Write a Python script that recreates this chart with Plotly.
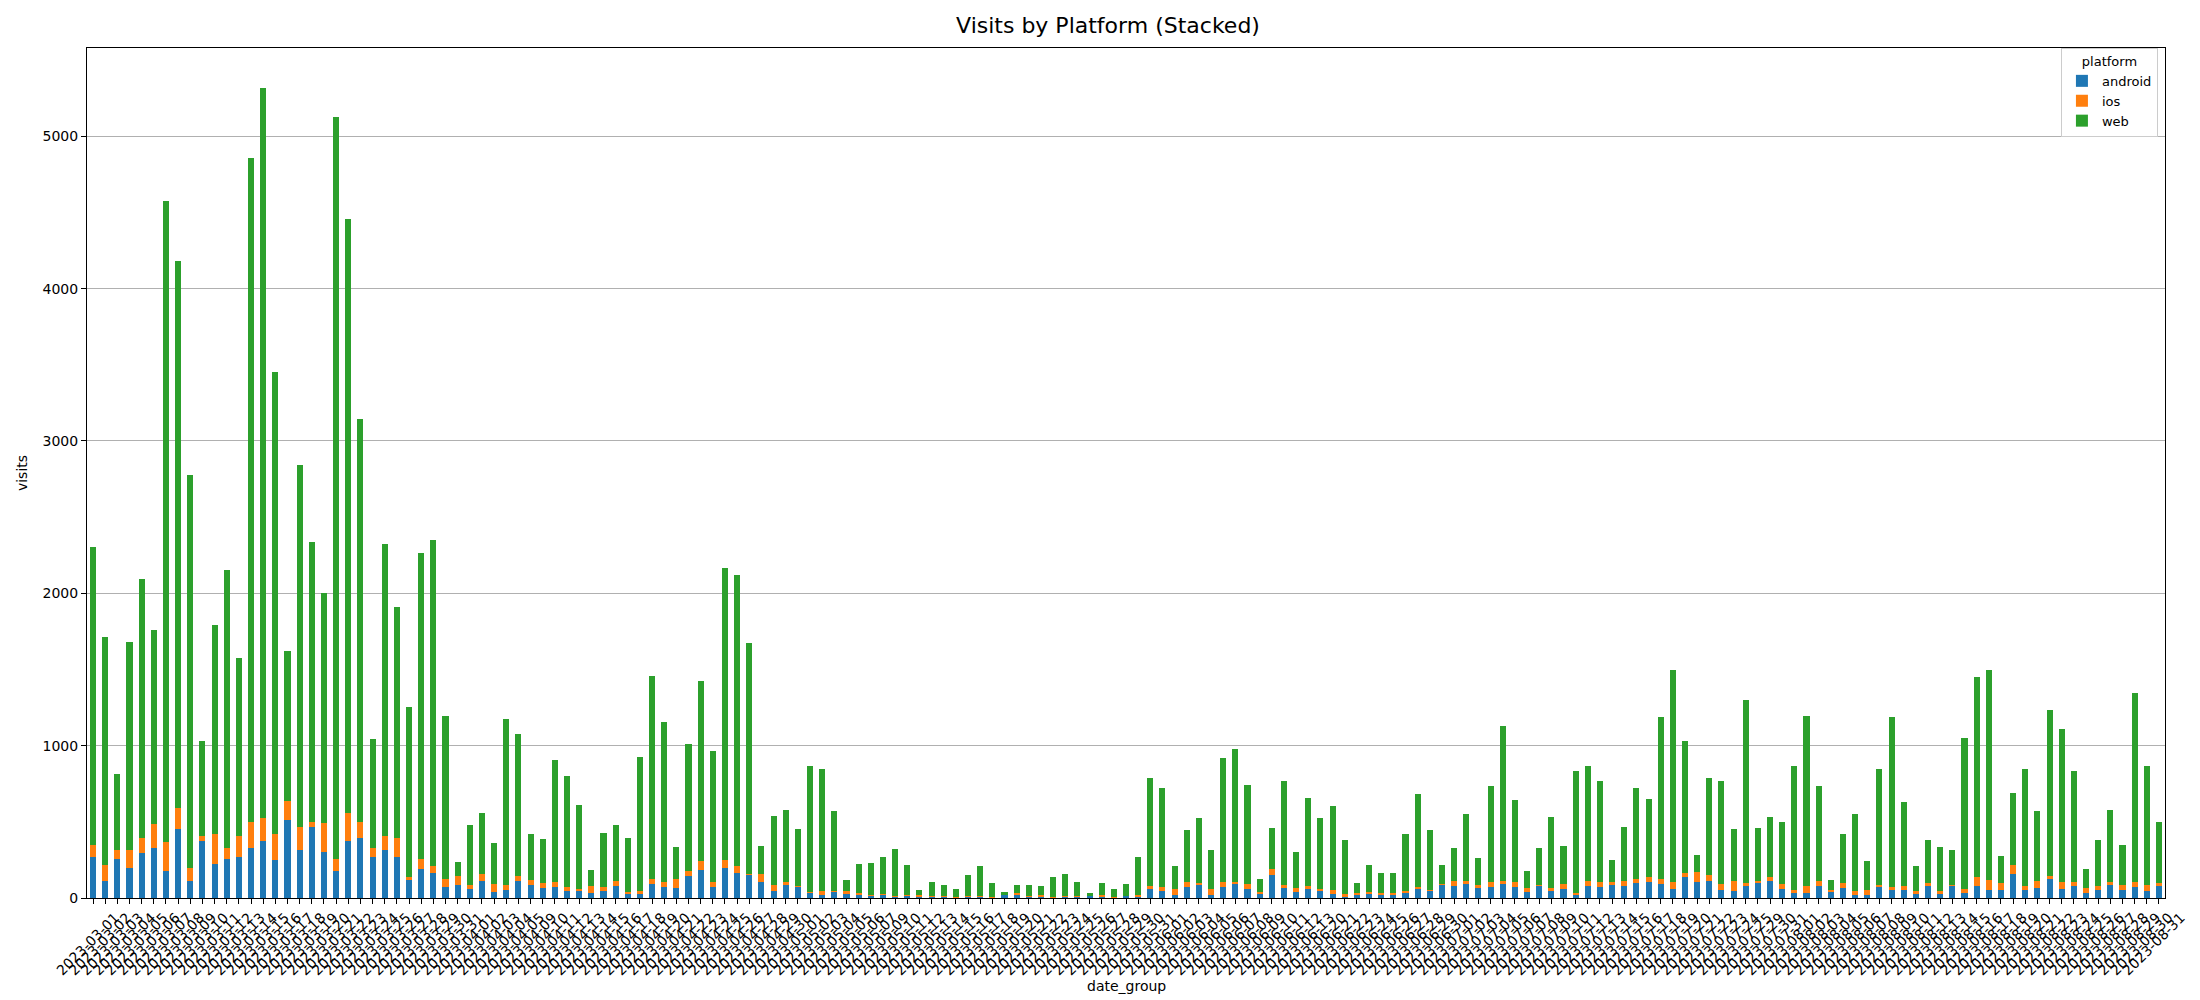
import pandas as pd
import plotly.graph_objects as go

# ---- categories (dates present in the data) ----
all_days = pd.date_range("2023-03-01", "2023-08-31", freq="D")
missing_days = ["2023-04-06", "2023-04-07", "2023-04-08", "2023-05-08",
                "2023-06-14", "2023-06-15", "2023-06-16", "2023-06-17",
                "2023-06-18", "2023-06-19", "2023-07-26", "2023-07-27", "2023-07-28"]
date_group = [d.strftime("%Y-%m-%d") for d in all_days if d.strftime("%Y-%m-%d") not in missing_days]

# ---- series values ----
android = [268, 109, 259, 197, 293, 326, 176, 456, 109, 372, 226, 259, 268, 331, 372, 247, 515, 314, 469, 301,
           180, 372, 393, 268, 318, 272, 117, 188, 163, 71, 84, 59, 109, 42, 50, 109, 84, 64, 75, 48,
           48, 35, 48, 81, 28, 28, 94, 74, 68, 146, 185, 74, 198, 166, 153, 107, 48, 87, 74, 35,
           22, 41, 28, 22, 15, 22, 13, 15, 9, 12, 13, 3, 7, 7, 2, 22, 20, 7, 13, 3,
           7, 7, 13, 13, 6, 13, 13, 59, 46, 20, 73, 86, 20, 73, 92, 59, 26, 152, 66, 40,
           59, 46, 26, 13, 26, 26, 26, 26, 33, 59, 46, 86, 79, 92, 66, 73, 92, 73, 40, 79,
           46, 59, 20, 79, 73, 86, 79, 99, 105, 92, 59, 138, 105, 112, 53, 46, 79, 99, 112, 59,
           33, 33, 79, 40, 66, 20, 20, 73, 53, 53, 26, 79, 26, 79, 33, 79, 53, 53, 158, 53,
           66, 125, 59, 79, 33, 53, 86, 53, 73, 46, 79]
ios = [79, 109, 55, 117, 104, 159, 192, 134, 88, 38, 192, 72, 138, 167, 155, 171, 125, 150, 33, 189,
       79, 184, 105, 63, 92, 121, 21, 71, 46, 55, 58, 29, 50, 50, 34, 33, 37, 33, 33, 26,
       13, 46, 26, 32, 13, 20, 32, 33, 58, 33, 59, 33, 53, 45, 6, 52, 39, 20, 7, 6,
       26, 7, 20, 13, 7, 6, 3, 7, 13, 3, 3, 6, 6, 6, 7, 0, 13, 6, 7, 2,
       6, 6, 0, 7, 1, 0, 7, 20, 27, 39, 32, 13, 39, 32, 13, 33, 14, 39, 20, 26,
       20, 13, 27, 13, 7, 14, 7, 7, 13, 14, 7, 6, 33, 20, 20, 32, 20, 32, 26, 7,
       20, 33, 13, 33, 32, 19, 33, 26, 33, 33, 46, 27, 66, 40, 39, 66, 20, 13, 26, 33,
       20, 46, 33, 13, 33, 26, 33, 13, 20, 26, 20, 20, 20, 7, 26, 59, 66, 46, 60, 26,
       46, 20, 46, 26, 33, 26, 19, 33, 32, 40, 20]
web = [1954, 1493, 502, 1368, 1695, 1277, 4209, 3594, 2581, 623, 1373, 1820, 1171, 4360, 4787, 3038, 979, 2381, 1837, 1514,
       4871, 3904, 2644, 715, 1916, 1519, 1113, 2009, 2138, 1066, 92, 389, 402, 268, 1088, 933, 302, 293, 799, 726,
       549, 104, 353, 366, 353, 876, 1334, 1046, 210, 830, 1183, 856, 1915, 1909, 1516, 183, 451, 470, 372, 824,
       797, 523, 72, 189, 209, 242, 306, 196, 32, 92, 71, 51, 139, 198, 90, 18, 53, 73, 59, 133,
       145, 92, 20, 79, 52, 79, 250, 712, 646, 152, 343, 428, 257, 811, 871, 653, 85, 271, 679, 237,
       580, 468, 554, 356, 66, 178, 132, 132, 376, 613, 395, 126, 218, 442, 178, 633, 1015, 541, 112, 244,
       468, 251, 798, 752, 666, 146, 356, 600, 515, 1062, 1392, 864, 113, 639, 673, 343, 1200, 350, 396, 409,
       811, 1114, 620, 66, 323, 508, 191, 758, 1114, 554, 165, 283, 290, 230, 989, 1313, 1378, 178, 474, 765,
       462, 1088, 1003, 726, 125, 303, 475, 263, 1240, 778, 402]

series_names = ["android", "ios", "web"]
series_values = [android, ios, web]
series_colors = ["#1f77b4", "#ff7f0e", "#2ca02c"]
y_ticks = [0, 1000, 2000, 3000, 4000, 5000]

FONT = "DejaVu Sans"

fig = go.Figure()
for name, vals, col in zip(series_names, series_values, series_colors):
    fig.add_trace(go.Bar(x=date_group, y=vals, name=name, marker=dict(color=col, line=dict(width=0))))

totals = [a + b + c for a, b, c in zip(android, ios, web)]
ymax = max(totals) * 1.05

fig.update_layout(
    width=2200, height=1000,
    barmode="stack", bargap=0.5,
    paper_bgcolor="white", plot_bgcolor="white",
    margin=dict(l=79, r=43, t=40, b=110, autoexpand=False),
    font=dict(family=FONT, size=14, color="black"),
    title=dict(text="Visits by Platform (Stacked)", x=0.5, xanchor="center",
               y=1 - 17 / 1000, yanchor="middle", font=dict(size=22, family=FONT, color="black")),
    legend=dict(title=dict(text="platform", side="top center", font=dict(size=13)),
                x=0.9966, xanchor="right", y=1.0, yanchor="top",
                bgcolor="rgba(255,255,255,0.8)", bordercolor="#cccccc", borderwidth=1,
                font=dict(size=13), traceorder="normal", itemwidth=30),
    showlegend=True,
    annotations=[dict(text="date_group", xref="paper", yref="paper", x=0.5, y=-88 / 850,
                      xanchor="center", yanchor="middle", showarrow=False,
                      font=dict(size=14, family=FONT, color="black"))],
)
fig.update_xaxes(
    type="category", range=[-0.5, len(date_group) - 0.5],
    tickmode="array", tickvals=date_group, ticktext=date_group,
    showline=True, mirror=True, linecolor="black", linewidth=1.1,
    ticks="outside", ticklen=5, tickwidth=1.1, tickcolor="black",
    tickangle=-45, tickfont=dict(size=14, family=FONT), ticklabelshift=22,
    showgrid=False, automargin=False,
)
fig.update_yaxes(
    range=[0, ymax], tickvals=y_ticks,
    showline=True, mirror=True, linecolor="black", linewidth=1.1,
    ticks="outside", ticklen=5, tickwidth=1.1, tickcolor="black",
    showgrid=True, gridcolor="#b0b0b0", gridwidth=1.1, zeroline=False,
    tickfont=dict(size=14, family=FONT), automargin=False,
    title=dict(text="visits", font=dict(size=14), standoff=11),
)

fig.write_html("out.html")
